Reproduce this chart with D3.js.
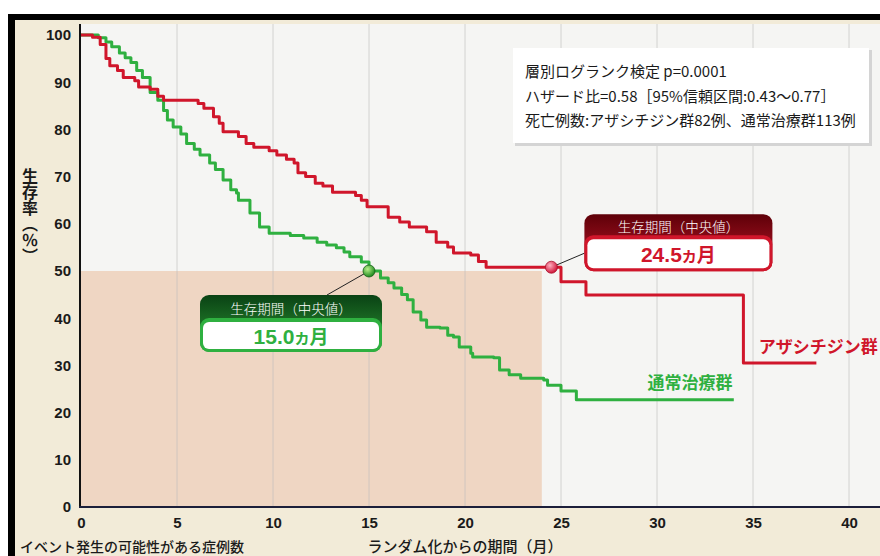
<!DOCTYPE html>
<html><head><meta charset="utf-8">
<script src="https://cdn.jsdelivr.net/npm/d3@7"></script>
<style>body{margin:0;background:#fff}svg{display:block}</style>
</head><body><svg id="c" width="880" height="556"></svg>
<script>
// ---- data ----
const xTicks = [0,5,10,15,20,25,30,35,40];
const yTicks = [0,10,20,30,40,50,60,70,80,90,100];
const azaTimes = [0,0.6,1.0,1.3,1.5,1.9,2.2,2.8,3.0,3.6,4.0,4.3,6.1,6.4,6.9,7.2,7.4,8.2,8.6,9.0,9.8,10.2,10.7,11.1,11.3,11.7,12.2,12.6,13.1,14.3,14.6,14.9,16.0,16.6,17.1,18.0,18.5,19.1,19.4,20.3,20.7,21.1,25.0,26.3,34.5,38.3];
const azaSurv  = [100,99.5,98,95,93.5,92.5,91,90.3,89,88.5,87,86.2,85.5,84.5,82.7,81.3,79.5,78.5,77,76.2,75.5,74.6,73.7,72.9,70.8,70,68.6,68,66.7,66,65,63.6,61.4,60.4,59.3,58.3,56.1,55.1,53.8,53.4,52,50.8,47.7,44.9,30.5,30.5];
const ccrTimes = [0,0.9,1.3,1.6,2.0,2.3,2.6,2.9,3.2,3.6,4.0,4.3,4.5,4.8,5.2,5.5,5.9,6.2,6.7,7.0,7.4,7.8,8.1,8.2,8.8,9.3,9.8,10.9,11.6,12.3,12.8,13.3,13.7,14.0,14.6,15.0,15.6,16.0,16.3,16.7,17.0,17.3,17.7,18.0,18.7,19.1,19.4,19.7,20.3,20.4,21.5,21.8,22.3,22.9,24.1,24.3,25.0,25.8,34.0];
const ccrSurv  = [100,99.4,98.5,97.5,96.2,95.2,94.2,92.5,91,87.8,86.2,84,82,80.5,79,77,75.8,74.6,72.9,71.5,69.3,67.2,66.5,65,62.3,59.3,58,57.5,57,56.1,55.5,54.9,54,53,51.9,50,48.5,47.5,46.4,45,43.9,41.3,39.6,38.1,37.9,36.4,36,33.9,32.6,31.8,31.6,29,28,27.3,26.9,25.8,24.6,22.7,22.7];
const seriesNames = ["アザシチジン群", "通常治療群"];
const medianMonths = [24.5, 15.0];
const medianLevels = [50.8, 50];
const medianLabels = ["24.5", "15.0"];
const shadeEnd = 24.0;
const infoLines = ["層別ログランク検定 p=0.0001", "ハザード比=0.58［95%信頼区間:0.43〜0.77］", "死亡例数:アザシチジン群82例、通常治療群113例"];

// ---- chart ----
const svg = d3.select("#c");
const RED = "#d0162b", GREEN = "#2fb040";
const JP = "'Noto Sans CJK JP','Noto Sans',sans-serif";
const NUM = "'Liberation Sans',Arial,sans-serif";
const x = d3.scaleLinear().domain([0,40]).range([81,849]);
const y = d3.scaleLinear().domain([0,100]).range([507,35]);

const defs = svg.append("defs");
function lin(id, c1, c2){ const g=defs.append("linearGradient").attr("id",id).attr("x1",0).attr("y1",0).attr("x2",0).attr("y2",1);
  g.append("stop").attr("offset","0%").attr("stop-color",c1); g.append("stop").attr("offset","100%").attr("stop-color",c2);}
lin("gRed","#5e0008","#c3182c"); lin("gGreen","#0a4214","#2e9a35");
function rad(id, c1, c2){ const g=defs.append("radialGradient").attr("id",id).attr("cx","38%").attr("cy","35%").attr("r","65%");
  g.append("stop").attr("offset","0%").attr("stop-color",c1); g.append("stop").attr("offset","100%").attr("stop-color",c2);}
rad("dRed","#ffb0c0","#d0163a"); rad("dGreen","#b8f08a","#1f8a1f");

// frame & backgrounds
svg.append("rect").attr("x",15).attr("y",20).attr("width",865).attr("height",536).attr("fill","#f2ebd8");
svg.append("rect").attr("x",8).attr("y",14).attr("width",7).attr("height",542).attr("fill","#000");
svg.append("rect").attr("x",8).attr("y",14).attr("width",872).attr("height",6).attr("fill","#000");
svg.append("rect").attr("x",x(0)-1).attr("y",24).attr("width",880-x(0)+1).attr("height",y(0)-24).attr("fill","#f5f5f3");
// shaded region below median
svg.append("rect").attr("x",x(0)).attr("y",y(50)).attr("width",x(shadeEnd)-x(0)).attr("height",y(0)-y(50)).attr("fill","#efd6c3");
// grid
svg.append("g").selectAll("line").data(xTicks.filter(d=>d>0)).join("line")
  .attr("x1",d=>x(d)).attr("x2",d=>x(d)).attr("y1",24).attr("y2",y(0))
  .attr("stroke","#bdbdbd").attr("stroke-opacity",0.6).attr("stroke-width",1);

// axes
const ax = svg.append("g").attr("transform",`translate(0,${y(0)})`)
  .call(d3.axisBottom(x).tickValues(xTicks).tickSize(0).tickPadding(10));
ax.select(".domain").remove();
ax.selectAll("text").attr("font-family",NUM).attr("font-size",15).attr("font-weight",700).attr("fill","#1a1a1a").attr("dy","0.71em");
const ay = svg.append("g").attr("transform",`translate(${x(0)-10},0)`)
  .call(d3.axisLeft(y).tickValues(yTicks).tickSize(0).tickPadding(0));
ay.select(".domain").remove();
ay.selectAll("text").attr("font-family",NUM).attr("font-size",15).attr("font-weight",700).attr("fill","#1a1a1a");
svg.append("line").attr("x1",x(0)-1).attr("x2",x(0)-1).attr("y1",24).attr("y2",y(0)+1).attr("stroke","#111").attr("stroke-width",2);
svg.append("line").attr("x1",x(0)-2).attr("x2",880).attr("y1",y(0)).attr("y2",y(0)).attr("stroke","#1c1f3a").attr("stroke-width",2);

// axis titles
svg.append("text").attr("x",30).attr("y",168).attr("font-family",JP).attr("font-size",16).attr("font-weight",700)
  .attr("fill","#1a1a1a").style("writing-mode","vertical-rl").text("生存率（％）");
svg.append("text").attr("x",(x(15)+x(25))/2).attr("y",552).attr("text-anchor","middle").attr("font-family",JP)
  .attr("font-size",15).attr("font-weight",500).attr("fill","#1a1a1a").text("ランダム化からの期間（月）");
svg.append("text").attr("x",20).attr("y",552).attr("font-family",JP).attr("font-size",14).attr("font-weight",500)
  .attr("fill","#1a1a1a").text("イベント発生の可能性がある症例数");

// info box
const ib = svg.append("g");
ib.append("rect").attr("x",515).attr("y",50).attr("width",357).attr("height",96).attr("fill","#d4d4d4");
ib.append("rect").attr("x",513).attr("y",48).attr("width",356).attr("height",95).attr("fill","#fff");
ib.selectAll("text").data(infoLines).join("text").attr("x",525).attr("y",(d,i)=>77+i*24.5)
  .attr("font-family",JP).attr("font-size",15).attr("fill","#1a1a1a").text(d=>d);

// survival curves
const line = d3.line().x(d=>x(d[0])).y(d=>y(d[1])).curve(d3.curveStepAfter);
const aza = azaTimes.map((t,i)=>[t,azaSurv[i]]);
const ccr = ccrTimes.map((t,i)=>[t,ccrSurv[i]]);
svg.append("path").datum(ccr).attr("d",line).attr("fill","none").attr("stroke",GREEN).attr("stroke-width",3).attr("stroke-linejoin","round");
svg.append("path").datum(aza).attr("d",line).attr("fill","none").attr("stroke",RED).attr("stroke-width",3).attr("stroke-linejoin","round");

// series labels
svg.append("text").attr("x",x(38.3)+2).attr("y",y(30.5)-10).attr("text-anchor","middle").attr("font-family",JP).attr("font-size",17).attr("font-weight",700).attr("fill",RED).text(seriesNames[0]);
svg.append("text").attr("x",x(30)+33).attr("y",y(22.7)-11).attr("text-anchor","middle").attr("font-family",JP).attr("font-size",17).attr("font-weight",700).attr("fill",GREEN).text(seriesNames[1]);

// median annotations
function label(cx, cy, bx, by, w, h, hh, color, grad, val, lx, ly){
  const g = svg.append("g");
  g.append("line").attr("x1",cx).attr("y1",cy).attr("x2",lx).attr("y2",ly).attr("stroke","#222").attr("stroke-width",1);
  g.append("rect").attr("x",bx).attr("y",by).attr("width",w).attr("height",h).attr("rx",9).attr("fill",`url(#${grad})`);
  g.append("rect").attr("x",bx).attr("y",by+hh-4).attr("width",w).attr("height",h-hh+4).attr("rx",9).attr("fill",color);
  g.append("rect").attr("x",bx+3).attr("y",by+hh).attr("width",w-6).attr("height",h-hh-3).attr("rx",6).attr("fill","#fff");
  g.append("text").attr("x",bx+w/2).attr("y",by+hh/2+5).attr("text-anchor","middle").attr("font-family",JP).attr("font-size",13.5)
    .attr("font-weight",300).attr("fill","#fff").text("生存期間（中央値）");
  const t = g.append("text").attr("x",bx+w/2).attr("y",by+hh+(h-hh)/2+7).attr("text-anchor","middle").attr("fill",color).attr("font-weight",700);
  t.append("tspan").attr("font-family",NUM).attr("font-size",21).text(val);
  t.append("tspan").attr("font-family",JP).attr("font-size",15).text("カ");
  t.append("tspan").attr("font-family",JP).attr("font-size",19).text("月");
  return g;
}
const rx0 = x(medianMonths[0]), ry0 = y(medianLevels[0]);
const gx0 = x(medianMonths[1]), gy0 = y(medianLevels[1]);
label(rx0, ry0, rx0+33, ry0-53, 188, 57, 25, RED, "gRed", medianLabels[0], rx0+33, ry0-14);
label(gx0, gy0, gx0-169, gy0+24, 182, 57, 27, GREEN, "gGreen", medianLabels[1], gx0-42, gy0+24);
svg.append("circle").attr("cx",rx0).attr("cy",ry0).attr("r",6).attr("fill","url(#dRed)").attr("stroke","#a8102a").attr("stroke-width",0.8);
svg.append("circle").attr("cx",gx0).attr("cy",gy0).attr("r",6).attr("fill","url(#dGreen)").attr("stroke","#156015").attr("stroke-width",0.8);
</script></body></html>
